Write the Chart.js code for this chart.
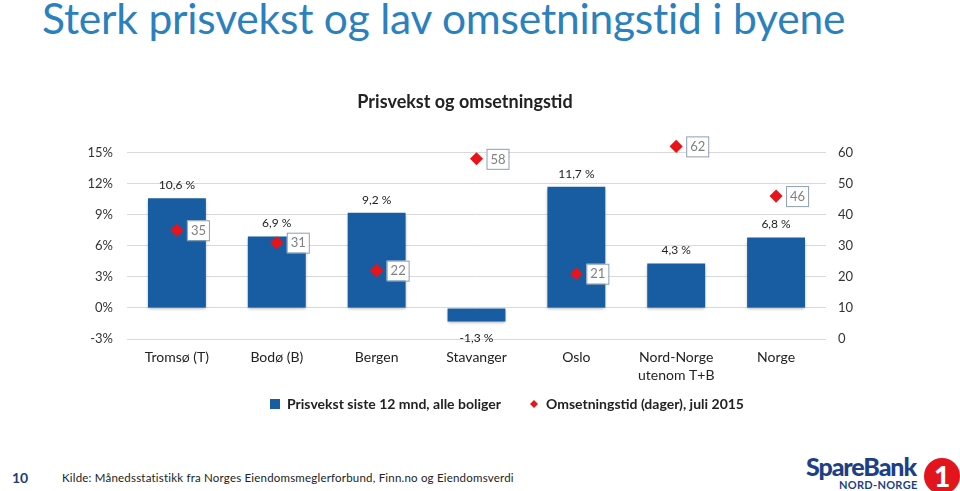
<!DOCTYPE html>
<html lang="no">
<head>
<meta charset="UTF-8">
<title>Prisvekst og omsetningstid</title>
<script src="https://cdn.jsdelivr.net/npm/chart.js"></script>
<style>
  body { margin: 0; width: 960px; height: 491px; background: #fff; overflow: hidden; position: relative; font-family: Lato, "Open Sans", sans-serif; }
  .overskrift { position: absolute; left: 42px; top: -8px; font-size: 42.5px; color: #2b81bd; white-space: nowrap; letter-spacing: -0.2px; }
  .graf { position: absolute; left: 0; top: 80px; width: 960px; height: 361px; }
  .side { position: absolute; left: 12px; top: 469px; font-size: 14px; font-weight: bold; color: #1f3d7a; }
  .kilde { position: absolute; left: 62px; top: 471px; font-size: 11.5px; letter-spacing: 0.2px; color: #222; }
  .logo { position: absolute; left: 806px; top: 452px; width: 154px; height: 39px; }
  .logo .navn { position: absolute; left: 0; top: -1px; font-size: 25px; font-weight: 900; color: #1d3f86; letter-spacing: -1.1px; }
  .logo .region { position: absolute; left: 33px; top: 26px; font-size: 11px; font-weight: bold; color: #1d3f86; letter-spacing: 0.3px; }
  .logo .en { position: absolute; left: 118px; top: 6px; width: 36px; height: 36px; border-radius: 50%; background: #e2141c; color: #fff; font-size: 28px; font-weight: 900; text-align: center; line-height: 36px; }
</style>
</head>
<body>
<div class="overskrift">Sterk prisvekst og lav omsetningstid i byene</div>
<div class="graf"><canvas id="graf"></canvas></div>
<div class="side">10</div>
<div class="kilde">Kilde: Månedsstatistikk fra Norges Eiendomsmeglerforbund, Finn.no og Eiendomsverdi</div>
<div class="logo"><span class="navn">SpareBank</span><span class="region">NORD-NORGE</span><span class="en">1</span></div>

<script>
// data lest av bildet
var steder = ['Tromsø (T)', 'Bodø (B)', 'Bergen', 'Stavanger', 'Oslo', ['Nord-Norge', 'utenom T+B'], 'Norge'];
var prisvekst = [10.6, 6.9, 9.2, -1.3, 11.7, 4.3, 6.8];
var omsetningstid = [35, 31, 22, 58, 21, 62, 46];
var prosent_ticks = [-3, 0, 3, 6, 9, 12, 15];
var dager_ticks = [0, 10, 20, 30, 40, 50, 60];

var skrift = 'Lato, "Open Sans", sans-serif';
var rod = '#e8141b';

function komma(v) {
  return v.toFixed(1).replace('.', ',') + ' %';
}

// liten rute til forklaringen (mindre enn punktene i grafen)
var liten_rute = document.createElement('canvas');
liten_rute.width = 10;
liten_rute.height = 10;
(function () {
  var c = liten_rute.getContext('2d');
  c.fillStyle = rod;
  c.beginPath();
  c.moveTo(5, 1); c.lineTo(9, 5); c.lineTo(5, 9); c.lineTo(1, 5);
  c.closePath();
  c.fill();
})();

// skygge under stolpene
var skygge = {
  id: 'skygge',
  beforeDatasetDraw: function (chart, args) {
    if (args.index != 0) return;
    var ctx = chart.ctx;
    ctx.save();
    ctx.shadowColor = 'rgba(0,0,0,0.35)';
    ctx.shadowOffsetY = 2;
    ctx.shadowBlur = 3;
  },
  afterDatasetDraw: function (chart, args) {
    if (args.index != 0) return;
    chart.ctx.restore();
  }
};

// flytt forklaringen litt mot høyre og opp, som i originalen
var flyttLegend = {
  id: 'flyttLegend',
  afterLayout: function (chart) {
    var l = chart.legend;
    l.left += 42;
    l.right += 42;
    l.top -= 20;
    l.bottom -= 20;
  }
};

// verdier over stolpene og bokser ved punktene
var etiketter = {
  id: 'etiketter',
  afterDatasetsDraw: function (chart) {
    var ctx = chart.ctx;
    ctx.save();
    ctx.font = '12px ' + skrift;
    ctx.fillStyle = '#222';
    ctx.textAlign = 'center';
    ctx.textBaseline = 'middle';
    chart.getDatasetMeta(0).data.forEach(function (bar, i) {
      var v = prisvekst[i];
      var y = v >= 0 ? bar.y - 13 : bar.y + 17;
      ctx.fillText(komma(v), bar.x, y);
    });
    ctx.font = '13px ' + skrift;
    chart.getDatasetMeta(1).data.forEach(function (pkt, i) {
      var x = pkt.x + 10, y = pkt.y - 10;
      ctx.fillStyle = '#fff';
      ctx.fillRect(x, y, 22, 20);
      ctx.strokeStyle = '#8d9fb3';
      ctx.lineWidth = 1;
      ctx.strokeRect(x + 0.5, y + 0.5, 22, 20);
      ctx.fillStyle = '#7f7f7f';
      ctx.fillText(String(omsetningstid[i]), x + 11.5, y + 10.5);
    });
    ctx.restore();
  }
};

new Chart(document.getElementById('graf'), {
  type: 'bar',
  data: {
    labels: steder,
    datasets: [{
      label: 'Prisvekst siste 12 mnd, alle boliger',
      data: prisvekst,
      backgroundColor: '#185da1',
      barPercentage: 0.58,
      categoryPercentage: 1,
      pointStyle: 'rect',
      yAxisID: 'y',
      order: 2
    }, {
      type: 'line',
      label: 'Omsetningstid (dager), juli 2015',
      data: omsetningstid,
      showLine: false,
      clip: false,
      pointStyle: 'rectRot',
      pointRadius: 5.5,
      backgroundColor: rod,
      borderColor: rod,
      borderWidth: 1.5,
      yAxisID: 'y1',
      order: 1
    }]
  },
  options: {
    responsive: true,
    maintainAspectRatio: false,
    animation: false,
    layout: { padding: { top: 11, right: 30, bottom: 0, left: 0 } },
    scales: {
      x: {
        grid: { display: false, drawTicks: false },
        border: { display: false },
        ticks: { color: '#222', font: { family: skrift, size: 14, lineHeight: 1.3 }, padding: 9, maxRotation: 0 },
        afterFit: function (s) { s.height = 50; }
      },
      y: {
        min: -3, max: 15,
        afterBuildTicks: function (s) { s.ticks = prosent_ticks.map(function (v) { return { value: v }; }); },
        grid: { color: '#d9d9d9', drawTicks: false },
        border: { display: false },
        ticks: { color: '#333', font: { family: skrift, size: 13 }, padding: 14, callback: function (v) { return v + '%'; } },
        afterFit: function (s) { s.width = 127; }
      },
      y1: {
        position: 'right',
        min: 0, max: 60,
        afterBuildTicks: function (s) { s.ticks = dager_ticks.map(function (v) { return { value: v }; }); },
        grid: { display: false, drawTicks: false },
        border: { display: false },
        ticks: { color: '#333', font: { family: skrift, size: 13 }, padding: 12 },
        afterFit: function (s) { s.width = 104; }
      }
    },
    plugins: {
      title: {
        display: true,
        text: 'Prisvekst og omsetningstid',
        color: '#222',
        font: { family: skrift, size: 18, weight: 'bold' },
        padding: { top: 0, bottom: 40 }
      },
      legend: {
        position: 'bottom',
        labels: {
          usePointStyle: true,
          boxWidth: 10,
          boxHeight: 10,
          padding: 28,
          color: '#222',
          font: { family: skrift, size: 14, weight: 'bold' },
          sort: function (a, b) { return a.datasetIndex - b.datasetIndex; },
          generateLabels: function (chart) {
            var items = Chart.defaults.plugins.legend.labels.generateLabels(chart);
            items.forEach(function (it) {
              if (it.datasetIndex == 1) it.pointStyle = liten_rute;
            });
            return items;
          }
        }
      },
      tooltip: { enabled: false }
    }
  },
  plugins: [skygge, flyttLegend, etiketter]
});
</script>
</body>
</html>
